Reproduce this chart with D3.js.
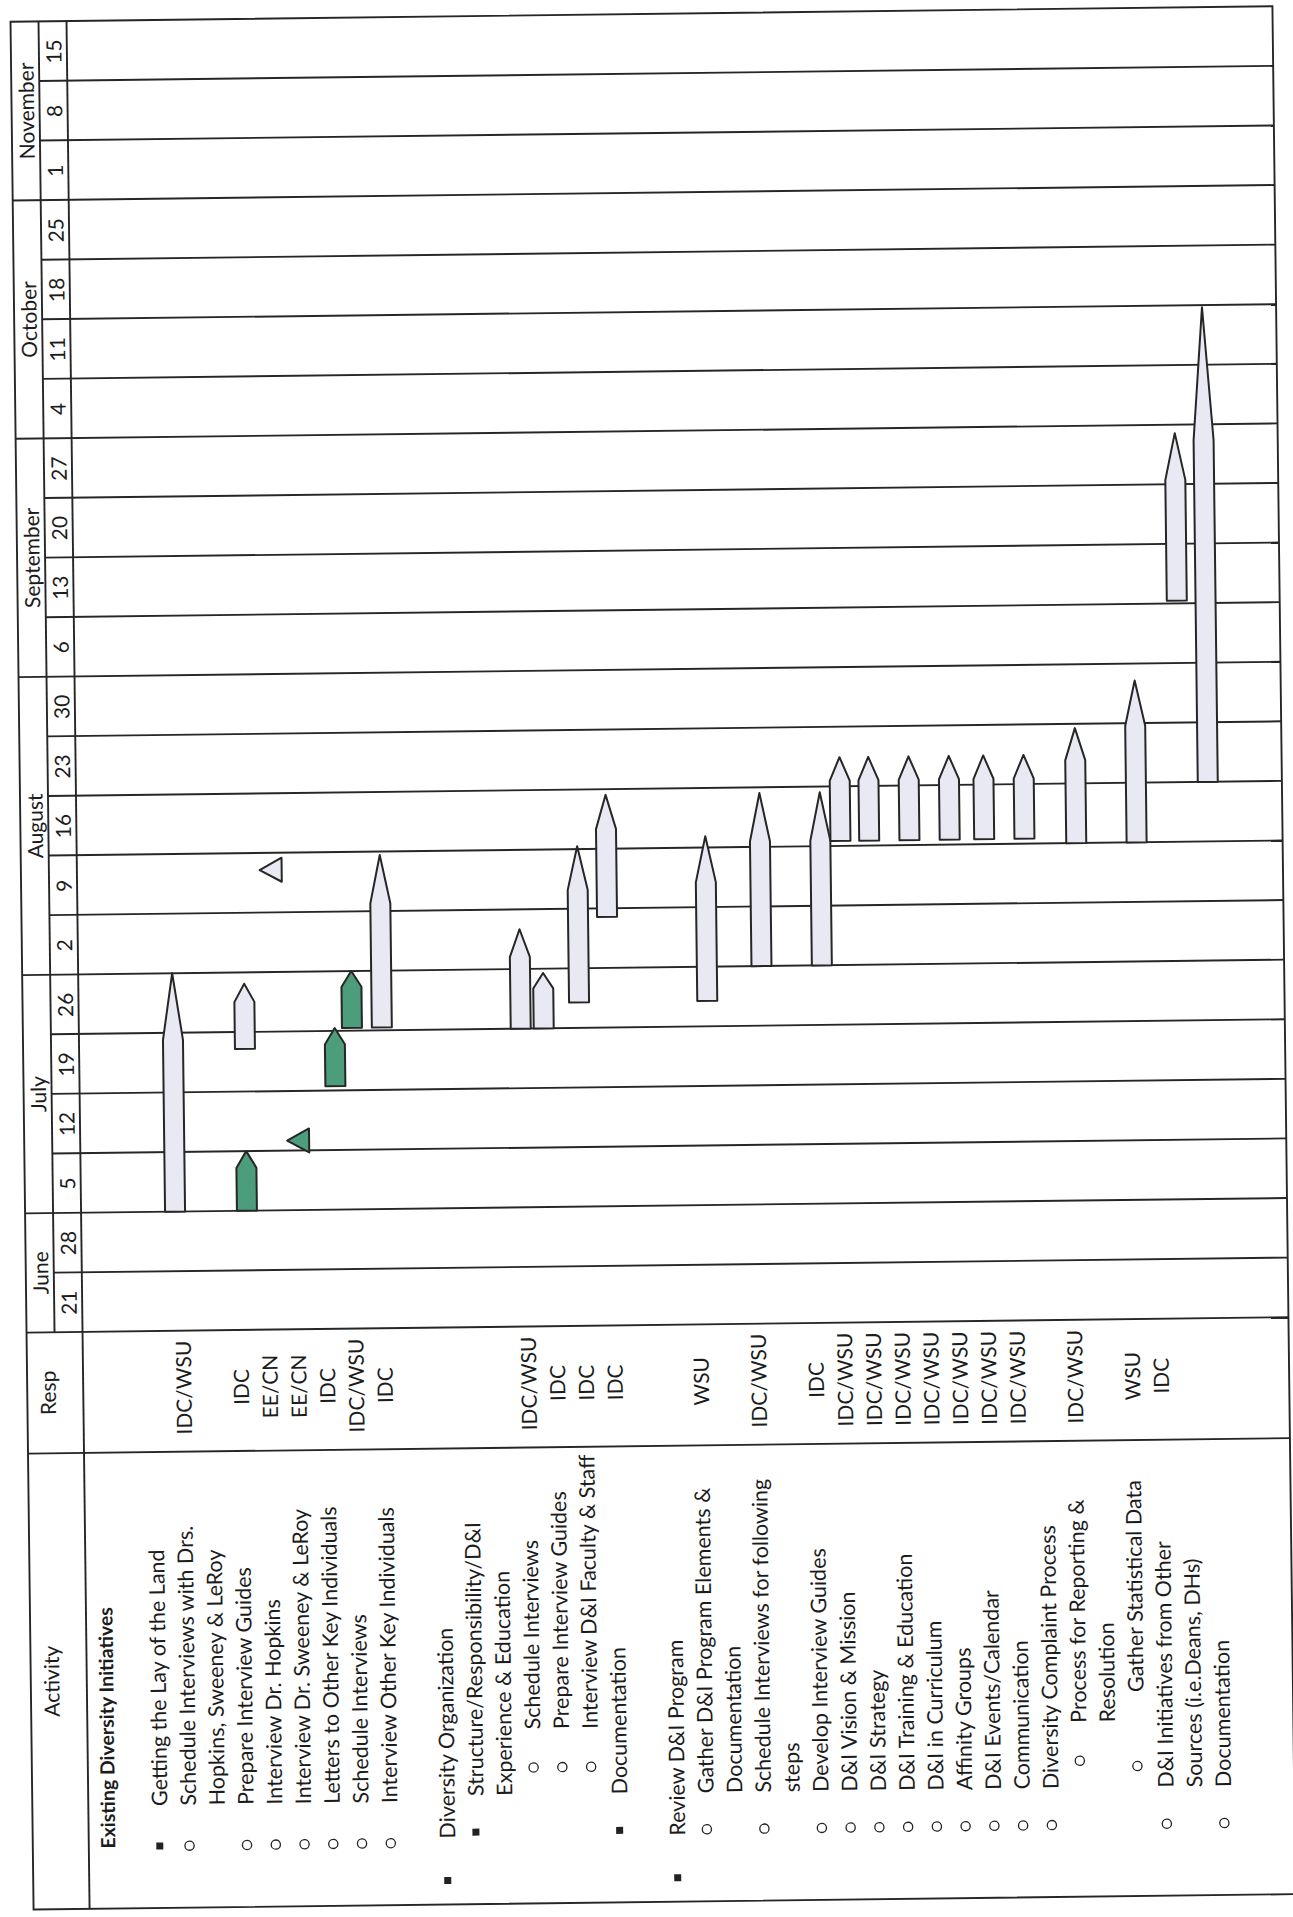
<!DOCTYPE html>
<html><head><meta charset="utf-8">
<script src="https://cdn.jsdelivr.net/npm/d3@7"></script>
<style>body{margin:0;background:#fff}svg{display:block}</style>
</head><body>
<svg id="c" width="1293" height="1917"></svg>
<script>
// ---------- data ----------
const weekStarts = ["2010-06-21","2010-06-28","2010-07-05","2010-07-12","2010-07-19","2010-07-26",
  "2010-08-02","2010-08-09","2010-08-16","2010-08-23","2010-08-30","2010-09-06","2010-09-13",
  "2010-09-20","2010-09-27","2010-10-04","2010-10-11","2010-10-18","2010-10-25","2010-11-01",
  "2010-11-08","2010-11-15"];
const weekLabels = ["21","28","5","12","19","26","2","9","16","23","30","6","13","20","27","4","11","18","25","1","8","15"];
const months = ["June","July","August","September","October","November"];
const monthWeeks = [2,4,5,4,4,3];

const activityLines = ["Getting the Lay of the Land","Schedule Interviews with Drs.","Hopkins, Sweeney & LeRoy",
  "Prepare Interview Guides","Interview Dr. Hopkins","Interview Dr. Sweeney & LeRoy","Letters to Other Key Individuals",
  "Schedule Interviews","Interview Other Key Individuals","",
  "Diversity Organization","Structure/Responsibility/D&I","Experience & Education","Schedule Interviews",
  "Prepare Interview Guides","Interview D&I Faculty & Staff","Documentation","",
  "Review D&I Program","Gather D&I Program Elements &","Documentation","Schedule Interviews for following","steps",
  "Develop Interview Guides","D&I Vision & Mission","D&I Strategy","D&I Training & Education","D&I in Curriculum",
  "Affinity Groups","D&I Events/Calendar","Communication","Diversity Complaint Process","Process for Reporting &",
  "Resolution","Gather Statistical Data","D&I Initiatives from Other","Sources (i.e.Deans, DHs)","Documentation"];
const bulletMarks = ["sq","o","","o","o","o","o","o","o","",
  "sq","sq","","o","o","o","sq","",
  "sq","o","","o","","o","o","o","o","o","o","o","o","o","o","","o","o","","o"];
const outlineLevels = ["a","a","a","a","a","a","a","a","a","",
  "0","1","1","2","2","2","1","",
  "0","1","1","1","1","1","1","1","1","1","1","1","1","1","2","2","3","1","1","1"];
const respLabels = ["","IDC/WSU","","IDC","EE/CN","EE/CN","IDC","IDC/WSU","IDC","",
  "","","","IDC/WSU","IDC","IDC","IDC","",
  "","WSU","","IDC/WSU","","IDC","IDC/WSU","IDC/WSU","IDC/WSU","IDC/WSU","IDC/WSU","IDC/WSU","IDC/WSU",
  "","IDC/WSU","","WSU","IDC","",""];
const sectionTitle = "Existing Diversity Initiatives";

// task bars: row (line index), start, end, kind
const taskRows   = [1.8, 4.3, 4.3, 7.43, 8.03, 9.07, 13.9, 14.7, 15.94, 16.95, 20.4, 22.3, 24.4,
                    25.1, 26.1, 27.5, 28.9, 30.1, 31.5, 33.3, 35.4, 36.9, 37.9];
const taskStarts = ["2010-07-05T00","2010-07-05T00","2010-07-24T00","2010-07-19T12","2010-07-26T08","2010-07-26T08",
  "2010-07-26T00","2010-07-26T00","2010-07-29T00","2010-08-08T00","2010-07-29T00","2010-08-02T00","2010-08-02T00",
  "2010-08-16T14","2010-08-16T14","2010-08-16T14","2010-08-16T14","2010-08-16T14","2010-08-16T14",
  "2010-08-16T00","2010-08-16T00","2010-09-13T08","2010-08-23T00"];
const taskEnds   = ["2010-08-02T00","2010-07-12T00","2010-07-31T16","2010-07-26T08","2010-08-02T00","2010-08-15T14",
  "2010-08-06T16","2010-08-01T12","2010-08-16T08","2010-08-22T08","2010-08-17T08","2010-08-22T08","2010-08-22T08",
  "2010-08-26T10","2010-08-26T10","2010-08-26T10","2010-08-26T10","2010-08-26T10","2010-08-26T10",
  "2010-08-29T12","2010-09-04T00","2010-10-03T00","2010-10-17T18"];
const taskKinds  = ["plan","done","plan","done","done","plan","plan","plan","plan","plan","plan","plan","plan",
  "plan","plan","plan","plan","plan","plan","plan","plan","plan","plan"];

// milestones
const milestoneRows  = [5.27, 6.11];
const milestoneDates = ["2010-08-14T00","2010-07-13T04"];
const milestoneKinds = ["plan","done"];

// ---------- drawing ----------
const W = 1293, H = 1917;
const FONT = "Lato, 'Open Sans', 'DejaVu Sans', sans-serif";
const INK = "#262626";
const FILL = {plan:"#e8e9f2", done:"#4b9d7c"};
const L = 22, R = 1284, T = 14, B = 1902, XM = 50, XH = 78, YRESP = 1325, YACT = 1446;
const FS = 21.5;

const svg = d3.select("#c");
svg.append("rect").attr("width", W).attr("height", H).attr("fill", "#fff");
const g = svg.append("g").attr("transform", "rotate(-0.7,646,958)");

const wk = weekStarts.map(d => new Date(d + "T00:00"));
const tEnd = d3.timeDay.offset(wk[wk.length - 1], 7);
const y = d3.scaleTime().domain([wk[0], tEnd]).range([YRESP, T]);
const x = d3.scaleLinear().domain([1, 38]).range([149, 149 + 37 * 28.75]);
const pd = s => new Date(s + ":00");

const lines = g.append("g").attr("stroke", INK).attr("stroke-width", 1.9).attr("fill", "none");
const monthStartIdx = d3.cumsum(monthWeeks).slice(0, -1);
wk.forEach((d, i) => {
  if (i === 0) return;
  const yy = y(d);
  const x0 = monthStartIdx.includes(i) ? L : XM;
  lines.append("line").attr("x1", x0).attr("x2", R).attr("y1", yy).attr("y2", yy);
});
lines.append("rect").attr("x", L).attr("y", T).attr("width", R - L).attr("height", B - T);
lines.append("line").attr("x1", L).attr("x2", R).attr("y1", YRESP).attr("y2", YRESP);
lines.append("line").attr("x1", L).attr("x2", R).attr("y1", YACT).attr("y2", YACT);
lines.append("line").attr("x1", XH).attr("x2", XH).attr("y1", T).attr("y2", B);
lines.append("line").attr("x1", XM).attr("x2", XM).attr("y1", T).attr("y2", YRESP);

function vtext(sel, px, py, txt, anchor, opts = {}) {
  return sel.append("text")
    .attr("transform", `translate(${px},${py}) rotate(-90)`)
    .attr("text-anchor", anchor).attr("dominant-baseline", "central")
    .attr("font-family", FONT).attr("font-size", opts.size || FS)
    .attr("font-weight", opts.weight || "normal").attr("fill", "#1c1c1c")
    .text(txt);
}
const txt = g.append("g");

let acc = 0;
months.forEach((m, i) => {
  const a = wk[acc];
  acc += monthWeeks[i];
  const b = acc < wk.length ? wk[acc] : tEnd;
  vtext(txt, 36, (y(a) + y(b)) / 2, m, "middle", {size: 21});
});
const mids = wk.map(d => d3.timeHour.offset(d, 84));
const ax = g.append("g").attr("transform", `translate(64,0)`)
  .call(d3.axisRight(y).tickValues(mids).tickFormat((d, i) => weekLabels[i]).tickSize(0).tickPadding(0));
ax.select(".domain").remove();
ax.selectAll("text").attr("x", 0).attr("dy", null).attr("transform", "rotate(-90)")
  .attr("text-anchor", "middle").attr("dominant-baseline", "central")
  .attr("font-family", FONT).attr("font-size", 21).attr("fill", "#1c1c1c");

vtext(txt, 42, (YRESP + YACT) / 2, "Resp", "middle", {size: 21});
vtext(txt, 42, (YACT + B) / 2, "Activity", "middle", {size: 21});
vtext(txt, 97, 1842, sectionTitle, "start", {weight: "bold", size: 19.5});

const textStart = {a: 1800, "0": 1836, "1": 1794, "2": 1728, "3": 1698};
const bulletPos = {a: 1840, "0": 1878, "1": 1830, "2": 1766, "3": 1772};
activityLines.forEach((s, i) => {
  const row = i + 1, lv = outlineLevels[i];
  if (!s) return;
  const px = x(row);
  vtext(txt, px, textStart[lv], s, "start");
  const bm = bulletMarks[i];
  if (bm === "sq") txt.append("rect").attr("x", px - 3.5).attr("y", bulletPos[lv] - 3.5).attr("width", 7).attr("height", 7).attr("fill", "#222");
  else if (bm === "o") txt.append("circle").attr("cx", px + 1).attr("cy", bulletPos[lv]).attr("r", 4.6).attr("fill", "none").attr("stroke", "#222").attr("stroke-width", 1.3);
});
respLabels.forEach((s, i) => { if (s) vtext(txt, x(i + 1), 1382, s, "middle", {size: 21}); });

const BW = 20;
const tasks = taskRows.map((r, i) => ({r, s: pd(taskStarts[i]), e: pd(taskEnds[i]), k: taskKinds[i]}));
g.append("g").selectAll("path").data(tasks).join("path")
  .attr("d", d => {
    const cx = x(d.r), yb = y(d.s), yt = y(d.e);
    const hl = Math.max(12, (yb - yt) * 0.28);
    return `M${cx - BW / 2},${yb} L${cx - BW / 2},${yt + hl} L${cx},${yt} L${cx + BW / 2},${yt + hl} L${cx + BW / 2},${yb} Z`;
  })
  .attr("fill", d => FILL[d.k]).attr("stroke", INK).attr("stroke-width", 2).attr("stroke-linejoin", "round");

const ms = milestoneRows.map((r, i) => ({r, d: pd(milestoneDates[i]), k: milestoneKinds[i]}));
g.append("g").selectAll("path").data(ms).join("path")
  .attr("d", d => {
    const cx = x(d.r), cy = y(d.d);
    return `M${cx - 11},${cy} L${cx + 11},${cy - 12} L${cx + 11},${cy + 12} Z`;
  })
  .attr("fill", d => FILL[d.k]).attr("stroke", INK).attr("stroke-width", 2).attr("stroke-linejoin", "round");
</script>
</body></html>
